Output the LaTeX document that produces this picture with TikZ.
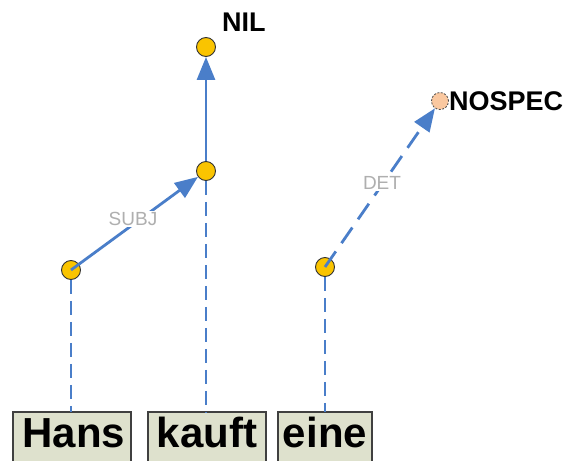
\documentclass[tikz,border=0pt]{standalone}
\usepackage{fontspec}
\setmainfont{Liberation Sans}
\usetikzlibrary{arrows.meta}
\definecolor{lnblue}{RGB}{74,126,201}
\definecolor{gold}{RGB}{250,196,0}
\definecolor{peach}{RGB}{250,200,160}
\definecolor{boxfill}{RGB}{222,225,205}
\definecolor{lblgray}{RGB}{175,175,175}
\tikzset{
  dot/.style={circle,draw=black!80,line width=0.9pt,fill=gold,minimum size=19pt,inner sep=0pt},
  nodot/.style={circle,draw=black!70,dashed,dash pattern=on 2pt off 1.5pt,line width=0.8pt,fill=peach,minimum size=17pt,inner sep=0pt},
  wordbox/.style={draw=black!75,line width=1.5pt,fill=boxfill},
  word/.style={font=\fontsize{42}{42}\selectfont\bfseries,anchor=base,inner sep=0pt},
  lbl/.style={font=\fontsize{27}{27}\selectfont\bfseries,anchor=base west,inner sep=0pt},
  edgelbl/.style={font=\fontsize{19}{19}\selectfont,text=lblgray,fill=white,inner sep=1pt},
  proj/.style={lnblue,line width=1.8pt,dash pattern=on 14pt off 7pt},
  dep/.style={lnblue,line width=2.8pt,-{Triangle[length=23pt,width=18pt]}},
}
\begin{document}
\begin{tikzpicture}[x=1pt,y=-1pt]
\useasboundingbox (0,0) rectangle (571,461);
\clip (0,0) rectangle (571,461);
% word boxes
\draw[wordbox] (13,412) rectangle (131,475);
\draw[wordbox] (148,412) rectangle (266,475);
\draw[wordbox] (278,412) rectangle (372,475);
\node[word] (w1) at (74,447) {Hans};
\node[word] (w2) at (207,447) {kauft};
\node[word] (w3) at (325,447) {eine};
\coordinate (t1) at (71,412);
\coordinate (t2) at (206,412);
\coordinate (t3) at (325,412);
% nodes
\node[dot] (hans) at (71,270) {};
\node[dot] (kauft) at (206,171) {};
\node[dot] (nil) at (206,47) {};
\node[dot] (eine) at (325,267) {};
\node[nodot] (nospec) at (440,101) {};
% projection lines
\draw[proj] (hans) -- (t1);
\draw[proj] (kauft) -- (t2);
\draw[proj] (eine) -- (t3);
% dependencies
\draw[dep] (hans.center) -- (kauft);
\draw[dep] (kauft) -- (nil);
\draw[dep,dash pattern=on 19pt off 10pt] (eine.center) -- (nospec);
\node[edgelbl] (subj) at (133,219) {SUBJ};
\node[edgelbl] (det) at (382,183) {DET};
% labels
\node[lbl] (nillbl) at (222,31) {NIL};
\node[lbl] (nospeclbl) at (449,110) {NOSPEC};
\end{tikzpicture}
\end{document}
